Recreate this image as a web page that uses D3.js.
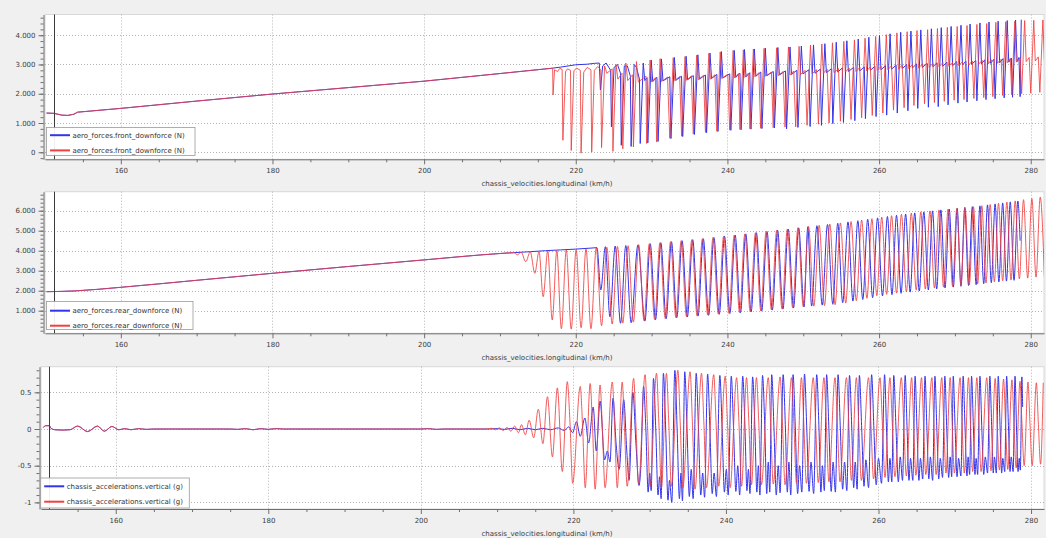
<!DOCTYPE html>
<html><head><meta charset="utf-8">
<script src="https://cdn.jsdelivr.net/npm/d3@7"></script>
<style>
body{margin:0;background:#f0f0f0;}
svg{display:block;font-family:"DejaVu Sans",sans-serif;}
</style></head><body>
<svg id="chart" width="1046" height="538"></svg>
<script>
// ---- axis ticks and labels ----
const xTicks = [160, 180, 200, 220, 240, 260, 280];
const xMinorTicks = [155,165,170,175,185,190,195,205,210,215,225,230,235,245,250,255,265,270,275];
const frontTicks = [0, 1000, 2000, 3000, 4000];
const rearTicks = [1000, 2000, 3000, 4000, 5000, 6000];
const accelTicks = [-1, -0.5, 0, 0.5];
const cursorSpeed = 151.2;
const xTitle = "chassis_velocities.longitudinal (km/h)";
const frontName = "aero_forces.front_downforce (N)";
const rearName = "aero_forces.rear_downforce (N)";
const accelName = "chassis_accelerations.vertical (g)";

// ---- front downforce (N) vs speed (km/h) ----
const frontRamp = [[150.2,1340],[151.2,1330],[152.2,1270],[153.0,1260],[153.8,1300],[154.3,1370],[160,1500],[170,1750],[180,1990],[190,2210],[200,2430],[210,2690],[216.8,2870]];
const frontBlue = [[218,2910],[220,2990],[221.5,3010],[222.5,3040],[223.1,3050],
[223.25,2130],[223.55,2950],[224.0,3050],[224.6,2800],[224.7,870],[225.05,2900],[225.5,3000],[225.9,2700],
[226.0,240],[226.4,2950],[226.8,2950],[227.2,2600],[227.3,200],[227.7,3000],[228.0,2900],[228.4,2500],
[228.5,300],[228.9,3050],[229.1,2450],[229.4,2550],
[229.5,320],[229.95,3150],[230.15,2420],[230.7,2560],[230.85,370],[231.3,3190],[231.5,2440],[232.4,2580],
[232.55,470],[233.0,3240],[233.2,2460],[233.95,2600],[234.1,540],[234.55,3280],[234.75,2480],[235.5,2620],
[235.65,610],[236.1,3330],[236.3,2500],[237.1,2640],[237.25,670],[237.7,3390],[237.9,2520],[238.6,2660],
[238.75,710],[239.2,3440],[239.4,2540],[240.3,2680],[240.45,750],[240.9,3480],[241.1,2560],[241.65,2700],
[241.8,770],[242.25,3510],[242.45,2580],[242.95,2720],[243.1,790],[243.55,3530],[243.75,2600],[244.4,2740],
[244.55,810],[245.0,3560],[245.2,2620],[246.05,2760],[246.2,830],[246.65,3580],[246.85,2640],[247.65,2780],
[247.8,800],[248.25,3600],[248.45,2660],[249.15,2800],[249.3,850],[249.75,3630],[249.95,2680],[250.75,2820],
[250.9,880],[251.35,3670],[251.55,2700],[252.25,2840],[252.4,920],[252.85,3710],[253.05,2720],[253.75,2860],
[253.9,980],[254.35,3760],[254.55,2740],[255.15,2880],[255.3,1020],[255.75,3810],[255.95,2760],[256.65,2900],
[256.8,1080],[257.25,3870],[257.45,2780],[258.05,2920],[258.2,1150],[258.65,3930],[258.85,2800],[259.45,2940],
[259.6,1220],[260.05,3990],[260.25,2820],[260.85,2960],[261.0,1270],[261.45,4050],[261.65,2840],[262.25,2980],
[262.4,1340],[262.85,4100],[263.05,2860],[263.65,3000],[263.8,1420],[264.2,4140],[264.4,2880],[264.95,3020],
[265.1,1500],[265.5,4180],[265.7,2900],[266.35,3040],[266.5,1540],[266.9,4220],[267.1,2920],[267.65,3060],
[267.8,1560],[268.2,4260],[268.4,2940],[268.95,3080],[269.1,1620],[269.5,4300],[269.7,2960],[270.25,3100],
[270.4,1680],[270.8,4340],[271.0,2980],[271.45,3120],[271.6,1720],[272.0,4380],[272.2,3000],[272.75,3140],
[272.9,1760],[273.3,4420],[273.5,3020],[273.95,3160],[274.1,1800],[274.5,4450],[274.7,3040],[275.15,3180],
[275.3,1830],[275.7,4480],[275.9,3060],[276.35,3200],[276.5,1860],[276.9,4500],[277.1,3080],[277.45,3220],
[277.6,1880],[278.0,4520],[278.2,3100],[278.45,3240],[278.6,1900],[278.75,4530]];
const frontRed = [[216.95,2870],[217.0,1960],[217.2,2820],[217.6,2760],[217.9,2870],[218.2,2830],
[218.3,410],[218.65,2760],[218.9,2850],[219.3,2800],[219.4,60],[219.75,2780],[220.1,2880],[220.6,2800],
[220.7,-30],[221.05,2740],[221.5,2900],[222.0,2820],[222.1,10],[222.45,2800],[222.9,2930],[223.3,2820],
[223.4,160],[223.8,2950],[224.1,2700],[224.8,2850],[224.9,30],[225.3,3000],[225.55,2500],[226.1,2700],
[226.2,120],[226.6,3050],[226.85,2450],[227.5,2650],[227.6,180],[228.0,3100],[228.25,2400],[229.25,2600],
[229.35,300],[229.8,3150],[230.0,2400],[230.5,2550],[230.67,350],[231.12,3200],[231.32,2420],[232.1,2570],
[232.4,480],[232.85,3230],[233.05,2440],[233.7,2590],[233.96,550],[234.41,3270],[234.61,2460],[235.25,2610],
[235.5,620],[235.95,3320],[236.15,2480],[236.85,2630],[237.1,680],[237.55,3380],[237.75,2500],[238.35,2650],
[238.6,720],[239.05,3430],[239.25,2520],[240.05,2670],[240.3,760],[240.75,3480],[240.95,2540],[241.45,2690],
[241.65,780],[242.1,3500],[242.3,2560],[242.75,2700],[242.97,800],[243.42,3530],[243.62,2580],[244.15,2720],
[244.38,820],[244.83,3550],[245.03,2600],[245.8,2740],[246.04,840],[246.49,3570],[246.69,2620],[247.35,2760],
[247.6,860],[248.05,3600],[248.25,2640],[248.75,2780],[249.0,870],[249.45,3620],[249.65,2660],[250.25,2800],
[250.5,920],[250.95,3660],[251.15,2680],[251.75,2820],[252.0,960],[252.45,3700],[252.65,2700],[253.15,2840],
[253.4,1000],[253.85,3740],[254.05,2720],[254.65,2860],[254.9,1060],[255.35,3790],[255.55,2740],[256.05,2880],
[256.3,1120],[256.75,3840],[256.95,2760],[257.45,2900],[257.7,1180],[258.15,3900],[258.35,2780],[258.85,2920],
[259.1,1260],[259.55,3960],[259.75,2800],[260.25,2940],[260.5,1340],[260.95,4020],[261.15,2820],[261.65,2960],
[261.9,1440],[262.35,4080],[262.55,2840],[263.05,2980],[263.3,1520],[263.7,4120],[263.9,2860],[264.4,3000],
[264.6,1600],[265.0,4160],[265.2,2880],[265.75,3020],[266.0,1660],[266.4,4190],[266.6,2900],[267.1,3040],
[267.3,1700],[267.7,4230],[267.9,2920],[268.4,3060],[268.6,1740],[269.0,4270],[269.2,2940],[269.7,3080],
[269.9,1780],[270.3,4300],[270.5,2960],[271.0,3100],[271.2,1800],[271.6,4330],[271.8,2980],[272.3,3120],
[272.5,1840],[272.9,4370],[273.1,3000],[273.6,3140],[273.8,1870],[274.2,4400],[274.4,3020],[274.8,3160],
[275.0,1900],[275.4,4440],[275.6,3040],[276.1,3180],[276.3,1940],[276.7,4460],[276.9,3060],[277.3,3200],
[277.5,1970],[277.9,4480],[278.1,3080],[278.6,3220],[278.8,2000],[279.2,4500],[279.4,3100],[279.8,3240],
[280.0,2020],[280.4,4510],[280.6,3120],[281.0,3260],[281.2,2050],[281.6,4520],[281.8,3140]];

// ---- rear downforce (N) vs speed (km/h) ----
const rearRamp = [[150.2,1950],[154,1990],[160,2170],[170,2520],[180,2870],[190,3210],[200,3540],[205,3710],[210,3860],[211.8,3900]];
const rearBlue = [[214,3950],[216,4000],[218,4040],[220,4080],[222,4130],[222.8,4150],
[223.3,2035],[223.9,4200],[224.5,700],[225.2,4230],[225.9,370],[226.6,4260],[227.3,400],[228.2,4290],
[229.12,480],[229.82,4350],[230.52,550],[231.22,4400],[231.92,600],[232.62,4450],[233.32,650],[234.02,4500],
[234.72,690],[235.42,4550],[236.12,730],[236.82,4600],[237.52,770],[238.22,4660],[238.92,820],[239.62,4720],
[240.32,860],[241.02,4780],[241.72,900],[242.42,4840],[243.12,940],[243.82,4900],[244.52,980],[245.22,4960],
[245.92,1030],[246.62,5020],[247.32,1080],[248.02,5080],[248.72,1140],[249.4,5140],[250.1,1190],[250.6,5200],
[251.1,1230],[251.8,5250],[252.5,1280],[253.2,5310],[253.9,1320],[254.55,5370],[255.2,1400],[255.9,5440],[256.55,1480],
[257.2,5500],[257.85,1560],[258.5,5570],[259.15,1650],[259.8,5640],[260.45,1740],[261.1,5710],[261.7,1800],
[262.3,5770],[262.9,1870],[263.5,5830],[264.1,1930],[264.7,5890],[265.3,1990],[265.9,5940],[266.5,2040],
[267.05,5990],[267.6,2090],[268.15,6040],[268.7,2140],[269.25,6080],[269.8,2180],[270.3,6120],[270.8,2220],
[271.3,6160],[271.8,2260],[272.3,6200],[272.8,2300],[273.3,6240],[273.8,2350],[274.3,6290],[274.8,2400],
[275.3,6340],[275.8,2440],[276.3,6390],[276.8,2480],[277.3,6440],[277.8,2520],[278.3,6480],[278.6,4500]];
const rearRed = [[212.3,3800],[212.8,3920],[213.4,3450],[214.0,3940],[214.6,2870],[215.15,3960],[215.7,1700],
[216.3,3980],[216.9,535],[217.5,4000],[218.1,100],[218.75,4030],[219.4,80],[220.05,4060],[220.7,150],[221.35,4100],
[222.0,100],[222.7,4130],[223.4,250],[224.1,4170],[224.8,330],[225.5,4210],[226.2,380],[226.9,4250],[227.6,430],
[228.3,4300],[229.0,500],[229.7,4350],[230.4,560],[231.1,4400],[231.8,610],[232.5,4450],[233.2,660],[233.9,4500],
[234.6,700],[235.3,4550],[236.0,740],[236.7,4600],[237.4,780],[238.1,4660],[238.8,830],[239.5,4720],[240.2,870],
[240.9,4780],[241.6,910],[242.3,4840],[243.0,950],[243.7,4900],[244.4,990],[245.1,4960],[245.8,1040],[246.5,5020],
[247.2,1090],[247.9,5080],[248.6,1150],[249.3,5150],[250.0,1200],[250.7,5210],[251.4,1230],[252.1,5270],[252.8,1260],
[253.5,5330],[254.2,1300],[254.9,5390],[255.6,1380],[256.3,5460],[257.0,1500],[257.7,5530],[258.4,1620],[259.05,5600],
[259.7,1750],[260.35,5680],[261.0,1820],[261.65,5750],[262.3,1880],[262.95,5820],[263.6,1950],[264.25,5880],
[264.9,2030],[265.5,5940],[266.1,2080],[266.7,5990],[267.3,2130],[267.9,6040],[268.5,2180],[269.1,6080],[269.7,2210],
[270.25,6110],[270.8,2250],[271.35,6150],[271.9,2290],[272.45,6200],[273.0,2340],[273.55,6250],[274.1,2390],
[274.65,6310],[275.2,2450],[275.75,6370],[276.3,2500],[276.85,6430],[277.4,2540],[277.95,6490],[278.5,2590],
[279.05,6550],[279.6,2630],[280.15,6610],[280.7,2680],[281.25,6680],[281.8,2700]];

// ---- vertical acceleration (g) vs speed (km/h) ----
const accelBase = [[150.5,0.02],[150.8,0.045],[151.3,0.045],[151.5,0.01],[152,-0.01],[153,-0.015],[154,-0.01],[155.0,0.04],[156.3,-0.035],[157.6,0.04],[158.5,-0.03],[159.5,0.035],[160.4,-0.01],[161.2,0.005],[162,-0.01],[163,0.005],[164,-0.005],[165,0],[175,0],[176,-0.005],[177,0.005],[178,-0.01],[179,0.005],[180,-0.005],[181,0.005],[182,0],[200,0],[201,0.005],[202,-0.005],[203,0],[208.5,0]];
const accelBlue = [[209,0],[210,0.005],[211,-0.005],[212,0.01],[213,-0.01],[214,0.01],[215,-0.01],[216,0.01],[217,-0.01],[218,0.015],[218.8,-0.02],
[219.4,0.03],[219.9,-0.05],[220.4,0.1],[220.9,-0.1],[221.5,0.15],[222.0,-0.19],[222.6,0.3],[223.0,-0.3],[223.5,0.38],[224.1,-0.42],[224.45,-0.3],[224.8,-0.45],
[225.2,0.42],[225.6,-0.2],[226.0,-0.55],[226.6,0.4],[227.0,-0.3],[227.3,-0.7],[227.8,0.5],[228.2,-0.2],[228.6,-0.77],[228.85,-0.5],
[229.2,0.58],[229.5,0.0],[229.8,-0.86],[230.0,-0.6],[230.2,-0.84],[230.5,0.69],[230.8,0.0],[231.1,-0.9],[231.3,-0.65],[231.5,-0.95],
[231.8,0.76],[232.1,0.0],[232.4,-0.97],[232.6,-0.7],[232.9,-1.0],[233.3,0.8],[233.6,0.0],[233.9,-0.95],[234.1,-0.6],[234.3,-0.98],
[234.6,0.78],[234.9,0.0],[235.2,-0.92],[235.45,-0.55],[235.7,-0.95],[236.1,0.76],[236.4,0.0],[236.7,-0.9],[236.95,-0.6],[237.2,-0.93],
[237.6,0.75],[237.9,0.0],[238.2,-0.88],[238.45,-0.6],[238.75,-0.92],[239.2,0.73],[239.5,0.0],[239.8,-0.86],[240.05,-0.55],[240.3,-0.9],
[240.7,0.72],[241.0,0.0],[241.3,-0.85],[241.55,-0.5],[241.8,-0.9],[242.2,0.72],[242.5,0.0],[242.75,-0.84],[242.95,-0.55],[243.15,-0.88],
[243.5,0.71],[243.8,0.0],[244.05,-0.86],[244.25,-0.5],[244.45,-0.9],[244.8,0.73],[245.1,0.0],[245.35,-0.88],[245.55,-0.45],[245.75,-0.86],
[246.0,0.74],[246.3,0.0],[246.6,-0.9],[246.85,-0.5],[247.1,-0.87],[247.5,0.74],[247.8,0.0],[248.05,-0.86],[248.25,-0.45],[248.5,-0.9],
[248.8,0.74],[249.1,0.0],[249.4,-0.88],[249.65,-0.5],[249.95,-0.86],[250.3,0.75],[250.6,0.0],[250.9,-0.85],[251.15,-0.45],[251.5,-0.88],
[251.9,0.74],[252.2,0.0],[252.45,-0.86],[252.65,-0.5],[252.9,-0.84],[253.2,0.74],[253.5,0.0],[253.8,-0.85],[254.05,-0.45],[254.35,-0.86],
[254.7,0.74],[255.0,0.0],[255.3,-0.82],[255.55,-0.45],[255.85,-0.84],[256.2,0.73],[256.5,0.0],[256.75,-0.8],[256.95,-0.45],[257.2,-0.82],
[257.5,0.73],[257.8,0.0],[258.1,-0.78],[258.35,-0.42],[258.7,-0.8],[259.1,0.74],[259.4,0.0],[259.7,-0.76],[260.0,-0.4],[260.4,-0.74],
[260.8,0.74],[261.05,0.0],[261.3,-0.72],[261.5,-0.4],[261.75,-0.72],[262.0,0.73],[262.3,0.0],[262.6,-0.72],[262.85,-0.38],[263.15,-0.7],
[263.5,0.73],[263.75,0.0],[264.0,-0.7],[264.2,-0.4],[264.5,-0.7],[264.8,0.72],[265.05,0.0],[265.3,-0.7],[265.5,-0.4],[265.8,-0.68],
[266.1,0.72],[266.35,0.0],[266.6,-0.68],[266.8,-0.38],[267.1,-0.7],[267.4,0.72],[267.65,0.0],[267.9,-0.68],[268.1,-0.4],[268.4,-0.66],
[268.7,0.72],[268.95,0.0],[269.2,-0.66],[269.4,-0.38],[269.6,-0.65],[269.8,0.72],[270.05,0.0],[270.3,-0.65],[270.5,-0.4],[270.8,-0.64],
[271.1,0.72],[271.35,0.0],[271.6,-0.64],[271.75,-0.38],[271.95,-0.62],[272.2,0.72],[272.45,0.0],[272.65,-0.62],[272.8,-0.4],[273.0,-0.62],
[273.3,0.72],[273.55,0.0],[273.8,-0.62],[274.0,-0.38],[274.3,-0.6],[274.6,0.72],[274.85,0.0],[275.05,-0.6],[275.2,-0.38],[275.45,-0.6],
[275.7,0.72],[275.95,0.0],[276.15,-0.6],[276.3,-0.4],[276.55,-0.58],[276.8,0.72],[277.05,0.0],[277.25,-0.58],[277.4,-0.38],[277.65,-0.58],
[277.9,0.72],[278.1,0.0],[278.3,-0.58],[278.45,-0.4],[278.6,-0.56],[278.8,0.71],[278.9,0.3]];
const accelRed = [[209.3,0.01],[209.8,-0.01],[210.3,0.015],[210.8,-0.02],[211.3,0.02],[211.8,-0.03],[212.3,0.04],[212.8,-0.05],[213.2,0.06],[213.7,-0.08],
[214.2,0.12],[214.8,-0.12],[215.4,0.27],[216.0,-0.2],[216.6,0.44],[217.25,-0.38],[217.9,0.56],[218.55,-0.58],[219.2,0.645],[219.55,0.1],[219.9,-0.74],
[220.9,0.58],[221.2,0.05],[221.55,-0.8],[222.2,0.62],[222.5,0.05],[222.85,-0.82],[223.5,0.6],[223.8,0.0],[224.15,-0.8],
[225.1,0.64],[225.4,0.05],[225.75,-0.8],[226.4,0.64],[226.7,0.0],[227.05,-0.78],[227.9,0.69],[228.2,0.05],[228.55,-0.75],
[229.4,0.74],[229.7,0.1],[230.05,-0.78],[230.9,0.76],[231.2,0.1],[231.55,-0.8],[232.2,0.76],[232.5,0.1],[232.85,-0.78],
[233.7,0.8],[234.0,0.1],[234.35,-0.8],[235.3,0.78],[235.6,0.1],[235.95,-0.82],[236.8,0.76],[237.1,0.1],[237.45,-0.8],
[238.4,0.74],[238.7,0.1],[239.05,-0.78],[239.9,0.72],[240.2,0.1],[240.55,-0.8],[241.4,0.7],[241.7,0.1],[242.05,-0.78],
[242.7,0.7],[243.0,0.1],[243.35,-0.76],[244.0,0.7],[244.3,0.1],[244.65,-0.76],[245.55,0.7],[245.85,0.1],[246.2,-0.75],
[247.1,0.71],[247.4,0.1],[247.75,-0.76],[248.6,0.7],[248.9,0.1],[249.25,-0.74],[249.9,0.7],[250.2,0.1],[250.55,-0.74],
[251.45,0.7],[251.75,0.1],[252.1,-0.73],[252.85,0.7],[253.15,0.1],[253.5,-0.72],[254.3,0.7],[254.6,0.1],[254.95,-0.72],
[255.8,0.7],[256.1,0.1],[256.45,-0.7],[257.1,0.7],[257.4,0.1],[257.75,-0.7],[258.7,0.7],[259.0,0.1],[259.35,-0.68],
[260.2,0.7],[260.5,0.1],[260.85,-0.66],[261.5,0.7],[261.8,0.1],[262.15,-0.65],[263.0,0.7],[263.3,0.1],[263.65,-0.64],
[264.35,0.7],[264.6,0.1],[264.9,-0.63],[265.65,0.7],[265.9,0.1],[266.2,-0.62],[267.0,0.7],[267.25,0.1],[267.55,-0.62],
[268.3,0.7],[268.55,0.1],[268.85,-0.6],[269.4,0.7],[269.65,0.1],[269.95,-0.6],[270.7,0.7],[270.95,0.1],[271.25,-0.6],
[271.8,0.7],[272.05,0.1],[272.35,-0.58],[272.9,0.7],[273.15,0.1],[273.45,-0.58],[274.2,0.7],[274.45,0.1],[274.75,-0.57],
[275.3,0.69],[275.55,0.1],[275.85,-0.56],[276.4,0.68],[276.65,0.1],[276.95,-0.55],[277.5,0.67],[277.75,0.1],[278.05,-0.53],
[278.55,0.65],[278.8,0.1],[279.1,-0.5],[279.6,0.64],[279.85,0.1],[280.15,-0.5],[280.7,0.63],[280.95,0.1],[281.25,-0.48],[281.6,0.63]];

// ---- drawing ----
const BLUE = "#3434ea", RED = "#f04040";
const dotFmt = d3.formatLocale({decimal: ",", thousands: ".", grouping: [3], currency: ["", ""]}).format(",.0f");
const accelFmt = d => String(d);

const panels = [
  {name: frontName, left: 45, right: 1044, top: 14.5, bottom: 159.3, xDom: [150, 281.75], yDom: [-240, 4708],
   ticks: frontTicks, minor: d3.range(-200, 4701, 200), fmt: dotFmt, curve: d3.curveLinear,
   blue: frontRamp.concat(frontBlue), red: frontRamp.concat(frontRed),
   legend: {x: 46.5, y: 127.5, w: 148.5, h: 28, rows: [135.2, 150.4]}},
  {name: rearName, left: 45, right: 1044, top: 191.7, bottom: 333.3, xDom: [150, 281.75], yDom: [-130, 6950],
   ticks: rearTicks, minor: d3.range(0, 6901, 200), fmt: dotFmt, curve: d3.curveMonotoneX,
   blue: rearRamp.concat(rearBlue), red: rearRamp.concat(rearRed),
   legend: {x: 46.5, y: 301.5, w: 146.5, h: 28, rows: [310.7, 325.7]}},
  {name: accelName, left: 41, right: 1044, top: 366.7, bottom: 509, xDom: [150.2, 281.7], yDom: [-1.09, 0.849],
   ticks: accelTicks, minor: d3.range(-10, 9).map(v => v / 10), fmt: accelFmt, curve: d3.curveMonotoneX,
   blue: accelBase.concat(accelBlue), red: accelBase.concat(accelRed),
   legend: {x: 40.7, y: 478, w: 148.6, h: 30, rows: [486.3, 501.7]}}
];

const svg = d3.select("#chart");

panels.forEach((p, i) => {
  const g = svg.append("g");
  const x = d3.scaleLinear().domain(p.xDom).range([p.left, p.right]);
  const y = d3.scaleLinear().domain(p.yDom).range([p.bottom, p.top]);

  g.append("rect").attr("x", p.left).attr("y", p.top)
    .attr("width", p.right - p.left).attr("height", p.bottom - p.top)
    .attr("fill", "#ffffff").attr("stroke", "#d8d8d8").attr("stroke-width", 1);

  // dotted grid
  g.append("g").selectAll("line").data(xTicks).join("line")
    .attr("x1", d => Math.round(x(d)) + 0.5).attr("x2", d => Math.round(x(d)) + 0.5)
    .attr("y1", p.top).attr("y2", p.bottom)
    .attr("stroke", "#b4b4b4").attr("stroke-dasharray", "1,2");
  g.append("g").selectAll("line").data(p.ticks).join("line")
    .attr("x1", p.left).attr("x2", p.right)
    .attr("y1", d => Math.round(y(d)) + 0.5).attr("y2", d => Math.round(y(d)) + 0.5)
    .attr("stroke", "#b4b4b4").attr("stroke-dasharray", "1,2");

  const clipId = "clip" + i;
  svg.append("clipPath").attr("id", clipId).append("rect")
    .attr("x", p.left).attr("y", p.top).attr("width", p.right - p.left).attr("height", p.bottom - p.top);

  const line = d3.line().x(d => x(d[0])).y(d => y(d[1])).curve(p.curve);
  const plot = g.append("g").attr("clip-path", `url(#${clipId})`);
  plot.append("path").datum(p.blue).attr("d", line)
    .attr("fill", "none").attr("stroke", BLUE).attr("stroke-width", 1).attr("stroke-linejoin", "round");
  plot.append("path").datum(p.red).attr("d", line)
    .attr("fill", "none").attr("stroke", RED).attr("stroke-width", 1).attr("stroke-linejoin", "round")
    .attr("stroke-opacity", 0.85);

  // cursor
  g.append("line").attr("x1", Math.round(x(cursorSpeed)) + 0.5).attr("x2", Math.round(x(cursorSpeed)) + 0.5)
    .attr("y1", p.top).attr("y2", p.bottom).attr("stroke", "#3a3a3a").attr("stroke-width", 1);

  // y axis
  const yAxisX = p.left - 1.5;
  const ya = g.append("g").attr("transform", `translate(${yAxisX},0)`)
    .call(d3.axisLeft(y).tickValues(p.ticks).tickFormat(p.fmt).tickSize(5).tickSizeOuter(0).tickPadding(3));
  g.append("g").attr("transform", `translate(${yAxisX},0)`)
    .call(d3.axisLeft(y).tickValues(p.minor).tickFormat("").tickSize(3).tickSizeOuter(0))
    .call(s => s.select(".domain").remove());
  // x axis
  const xa = g.append("g").attr("transform", `translate(0,${p.bottom})`)
    .call(d3.axisBottom(x).tickValues(xTicks).tickFormat(d3.format("d")).tickSize(5).tickSizeOuter(0).tickPadding(4));
  g.append("g").attr("transform", `translate(0,${p.bottom})`)
    .call(d3.axisBottom(x).tickValues(xMinorTicks).tickFormat("").tickSize(3).tickSizeOuter(0))
    .call(s => s.select(".domain").remove());
  g.selectAll(".domain, .tick line").attr("stroke", "#707070");
  g.selectAll(".tick text").attr("fill", "#3c3c3c").attr("font-size", 7).attr("font-family", "DejaVu Sans");
  [ya, xa].forEach(a => a.attr("font-family", null).attr("font-size", null));

  g.append("text").attr("x", 547).attr("y", p.bottom + 27).attr("text-anchor", "middle")
    .attr("font-size", 7).attr("fill", "#3c3c3c").text(xTitle);

  // legend
  const L = p.legend;
  const lg = g.append("g");
  lg.append("rect").attr("x", L.x).attr("y", L.y).attr("width", L.w).attr("height", L.h)
    .attr("fill", "#ffffff").attr("fill-opacity", 0.92).attr("stroke", "#9a9a9a").attr("stroke-width", 0.8);
  [BLUE, RED].forEach((c, k) => {
    lg.append("line").attr("x1", L.x + 3.5).attr("x2", L.x + 23.5)
      .attr("y1", L.rows[k]).attr("y2", L.rows[k]).attr("stroke", c).attr("stroke-width", 2);
    lg.append("text").attr("x", L.x + 26).attr("y", L.rows[k] + 2.5)
      .attr("font-size", 7).attr("fill", "#333").text(p.name);
  });
});
</script>
</body></html>
